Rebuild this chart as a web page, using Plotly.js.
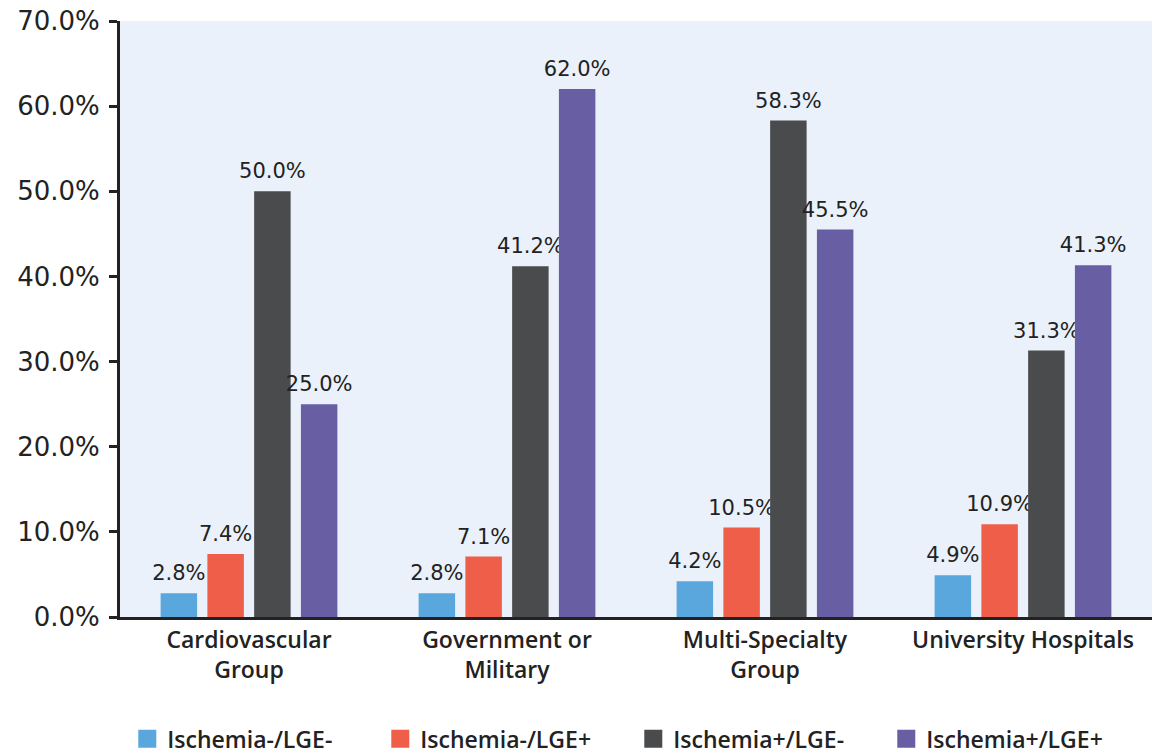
<!DOCTYPE html>
<html>
<head>
<meta charset="utf-8">
<script src="https://cdn.plot.ly/plotly-3.0.1.min.js"></script>
<style>
  html, body { margin: 0; padding: 0; background: #ffffff; }
  #chart { width: 1162px; height: 754px; }
</style>
</head>
<body>
<div id="chart"></div>
<script>
// Practice setting categories
const categories = [
  "Cardiovascular<br>Group",
  "Government or<br>Military",
  "Multi-Specialty<br>Group",
  "University Hospitals"
];

// Percentages per finding group
const seriesNames = ["Ischemia-/LGE-", "Ischemia-/LGE+", "Ischemia+/LGE-", "Ischemia+/LGE+"];
const ischNegLgeNeg = [2.8, 2.8, 4.2, 4.9];
const ischNegLgePos = [7.4, 7.1, 10.5, 10.9];
const ischPosLgeNeg = [50.0, 41.2, 58.3, 31.3];
const ischPosLgePos = [25.0, 62.0, 45.5, 41.3];

const yTickVals = [0, 10, 20, 30, 40, 50, 60, 70];
const yTickText = ["0.0%", "10.0%", "20.0%", "30.0%", "40.0%", "50.0%", "60.0%", "70.0%"];

const seriesColors = ["#5aa7de", "#ef5e48", "#4a4b4d", "#675ea3"];
const seriesValues = [ischNegLgeNeg, ischNegLgePos, ischPosLgeNeg, ischPosLgePos];

const wideFont = "'DejaVu Sans', 'Open Sans', sans-serif";
const labelFont = "'Open Sans', 'Noto Sans', sans-serif";
const ink = "#222222";

const traces = seriesValues.map((vals, i) => ({
  type: "bar",
  name: seriesNames[i],
  x: categories,
  y: vals,
  marker: { color: seriesColors[i] },
  text: vals.map(v => v.toFixed(1) + "%"),
  textposition: "outside",
  constraintext: "none",
  textfont: { family: wideFont, size: 21, color: ink },
  cliponaxis: false,
  hoverinfo: "skip"
}));

const layout = {
  width: 1162,
  height: 754,
  margin: { l: 120, r: 10, t: 21, b: 137 },
  paper_bgcolor: "#ffffff",
  plot_bgcolor: "#eaf1fa",
  barmode: "group",
  bargap: 0.275,
  bargroupgap: 0.22,
  font: { family: wideFont, color: ink },
  xaxis: {
    type: "category",
    showline: true,
    linecolor: ink,
    linewidth: 3,
    ticks: "",
    tickfont: { family: labelFont, size: 23, color: ink, weight: 600 },
    showgrid: false,
    zeroline: false,
    automargin: false
  },
  yaxis: {
    range: [0, 70],
    tickvals: yTickVals,
    ticktext: yTickText,
    showline: true,
    linecolor: ink,
    linewidth: 3,
    ticks: "outside",
    ticklen: 8,
    tickwidth: 3,
    tickcolor: ink,
    ticklabelstandoff: 4,
    tickfont: { family: wideFont, size: 26, color: ink },
    showgrid: false,
    zeroline: false,
    automargin: false
  },
  showlegend: true,
  legend: {
    orientation: "h",
    x: 0.545,
    xref: "container",
    xanchor: "center",
    y: 0.02,
    yref: "container",
    yanchor: "middle",
    font: { family: labelFont, size: 23, color: ink, weight: 600 },
    entrywidth: 208,
    traceorder: "normal"
  }
};

Plotly.newPlot("chart", traces, layout, { staticPlot: true, displayModeBar: false }).then(() => {
  // Enlarge the square legend swatches
  document.querySelectorAll(".legendpoints path").forEach(p => {
    p.setAttribute("d", "M9,9H-9V-9H9Z");
  });
  // Lift the value labels a little further above their bars
  document.querySelectorAll(".bartext").forEach(t => {
    const tr = t.getAttribute("transform") || "";
    t.setAttribute("transform", "translate(0,-5) " + tr);
  });
});
</script>
</body>
</html>
